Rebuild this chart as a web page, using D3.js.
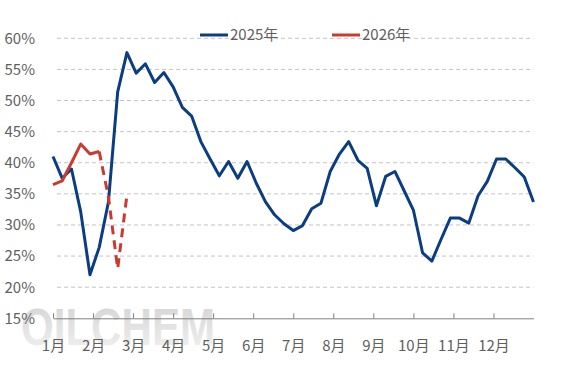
<!DOCTYPE html>
<html>
<head>
<meta charset="utf-8">
<script src="https://cdn.jsdelivr.net/npm/d3@7"></script>
<style>
    body { margin: 0; background: #fff; }
    text { font-family: "Noto Sans CJK SC", "Noto Sans", sans-serif; }
</style>
</head>
<body>
<div class="chart"></div>
<script>
// weekly values, %
var values2025 = [41.0, 37.5, 39.0, 32.1, 22.0, 26.4, 33.7, 51.4, 57.7, 54.4,
    55.9, 52.9, 54.5, 52.2, 48.9, 47.5, 43.4, 40.6, 37.9, 40.2,
    37.5, 40.2, 36.7, 33.7, 31.6, 30.2, 29.1, 29.9, 32.6, 33.5,
    38.6, 41.4, 43.4, 40.4, 39.1, 33.1, 37.8, 38.6, 35.5, 32.4,
    25.5, 24.2, 27.7, 31.1, 31.1, 30.3, 34.7, 37.0, 40.6, 40.6,
    39.2, 37.7, 33.7];
var values2026 = [36.5, 37.1, 40.0, 43.0, 41.4, 41.8, 34.5, 23.0, 34.8];
var dashedFrom = 5; // after this week the 2026 line is dashed
var monthLabels = ["1月", "2月", "3月", "4月", "5月", "6月", "7月", "8月", "9月", "10月", "11月", "12月"];
var yTicks = [15, 20, 25, 30, 35, 40, 45, 50, 55, 60];
var seriesNames = ["2025年", "2026年"];
var colors = ["#0b3d82", "#cc3a2f"];

var width = 567, height = 378;
var margin = {top: 38.3, bottom: 59.7, left: 53, right: 33.5};

var svg = d3.select(".chart")
    .append("svg")
    .attr("width", width)
    .attr("height", height);

var x = d3.scaleLinear().domain([0, values2025.length - 1]).range([margin.left, width - margin.right]);
var y = d3.scaleLinear().domain([15, 60]).range([height - margin.bottom, margin.top]);

// watermark
var grad = svg.append("defs").append("linearGradient")
    .attr("id", "wm")
    .attr("x1", 0).attr("y1", 0).attr("x2", 0).attr("y2", 1);
grad.append("stop").attr("offset", "0%").attr("stop-color", "#d2d2d2");
grad.append("stop").attr("offset", "100%").attr("stop-color", "#f3f3f3");

svg.append("text")
    .attr("x", 21)
    .attr("y", 345)
    .attr("textLength", 194)
    .attr("lengthAdjust", "spacingAndGlyphs")
    .style("font-family", "'Liberation Sans Narrow', 'Liberation Sans', sans-serif")
    .style("font-size", "52px")
    .style("font-weight", "bold")
    .style("fill", "url(#wm)")
    .text("OILCHEM");

// grid
svg.selectAll(".grid")
    .data(yTicks.slice(1))
    .enter()
    .append("line")
    .attr("class", "grid")
    .attr("x1", 57)
    .attr("x2", width - margin.right)
    .attr("y1", function(d){ return y(d); })
    .attr("y2", function(d){ return y(d); })
    .style("stroke", "#c4c4c4")
    .style("stroke-width", 1)
    .style("stroke-dasharray", "4,3");

// y axis labels
var yAxis = d3.axisLeft(y)
    .tickValues(yTicks)
    .tickFormat(function(d){ return d + "%"; })
    .tickSize(0)
    .tickPadding(3);

var gy = svg.append("g")
    .attr("transform", "translate(38,0)")
    .call(yAxis);
gy.select(".domain").remove();
gy.selectAll("text")
    .style("font-size", "15px")
    .style("fill", "#5f5f5f");

// x axis, a tick per month
var monthStep = (values2025.length - 1) / 12;
var xAxis = d3.axisBottom(x)
    .tickValues(d3.range(12).map(function(i){ return i * monthStep; }))
    .tickFormat(function(d, i){ return monthLabels[i]; })
    .tickSize(-5)
    .tickSizeOuter(0);

var gx = svg.append("g")
    .attr("transform", "translate(0," + y(15) + ")")
    .call(xAxis);
gx.select(".domain").style("stroke", "#808080");
gx.selectAll(".tick line").style("stroke", "#808080");
gx.selectAll("text")
    .attr("y", 27)
    .attr("dy", "0.35em")
    .style("font-size", "15px")
    .style("fill", "#5f5f5f");

// lines
var line = d3.line()
    .x(function(d){ return x(d.i); })
    .y(function(d){ return y(d.v); });

var data2025 = values2025.map(function(v, i){ return {i: i, v: v}; });
var data2026 = values2026.map(function(v, i){ return {i: i, v: v}; });

svg.append("path")
    .datum(data2025)
    .attr("d", line)
    .style("fill", "none")
    .style("stroke", colors[0])
    .style("stroke-width", 3)
    .style("stroke-linejoin", "round");

svg.append("path")
    .datum(data2026.slice(0, dashedFrom + 1))
    .attr("d", line)
    .style("fill", "none")
    .style("stroke", colors[1])
    .style("stroke-width", 3)
    .style("stroke-linejoin", "round");

svg.append("path")
    .datum(data2026.slice(dashedFrom))
    .attr("d", line)
    .style("fill", "none")
    .style("stroke", colors[1])
    .style("stroke-width", 3)
    .style("stroke-dasharray", "9,6");

// legend
var legendX = [200, 332];
var legend = svg.selectAll(".legend")
    .data(seriesNames)
    .enter()
    .append("g")
    .attr("class", "legend")
    .attr("transform", function(d, i){ return "translate(" + legendX[i] + ",35)"; });

legend.append("line")
    .attr("x1", 0)
    .attr("x2", 28)
    .style("stroke", function(d, i){ return colors[i]; })
    .style("stroke-width", 3);

legend.append("text")
    .attr("x", 30)
    .attr("dy", "0.35em")
    .style("font-size", "15px")
    .style("fill", "#5f5f5f")
    .text(function(d){ return d; });
</script>
</body>
</html>
